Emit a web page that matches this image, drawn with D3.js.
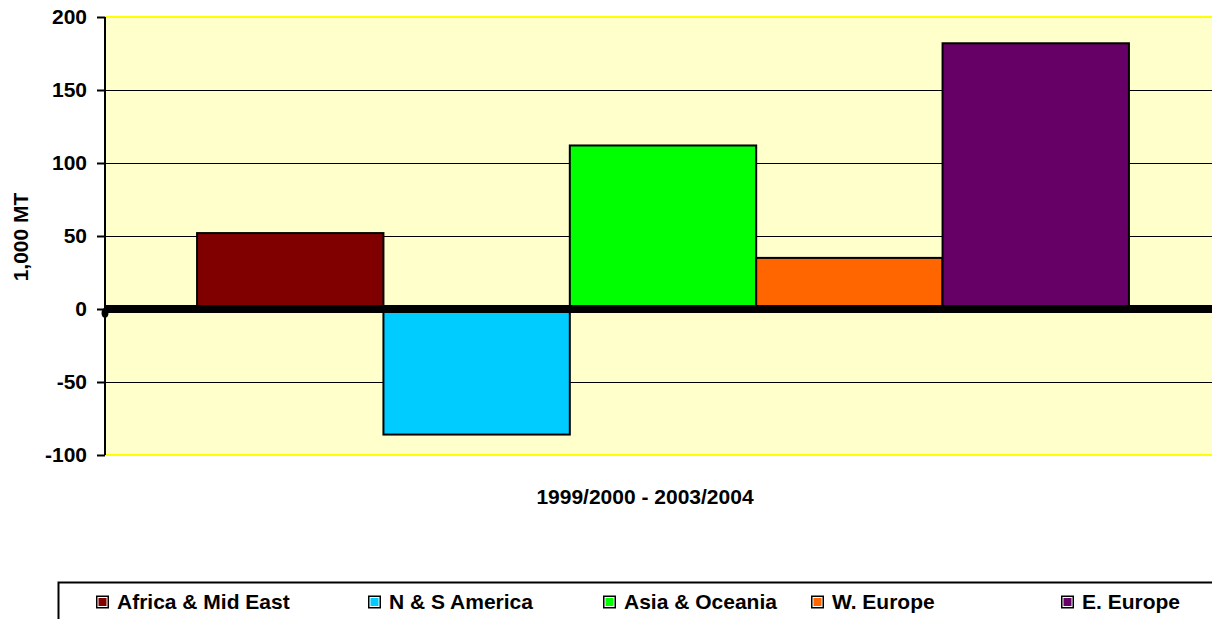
<!DOCTYPE html>
<html>
<head>
<meta charset="utf-8">
<script src="https://cdn.jsdelivr.net/npm/d3@7"></script>
<style>
html,body{margin:0;padding:0;background:#fff;}
svg{display:block;font-family:Arial,"Liberation Sans",sans-serif;font-weight:bold;}
</style>
</head>
<body>
<svg id="chart" width="1212" height="619"></svg>
<script>
const categories = ["Africa & Mid East", "N & S America", "Asia & Oceania", "W. Europe", "E. Europe"];
const values = [52, -86, 112, 35, 182];
const colors = ["#800000", "#00CCFF", "#00FF00", "#FF6600", "#660066"];
const yTicks = [-100, -50, 0, 50, 100, 150, 200];
const xTitle = "1999/2000 - 2003/2004";
const yTitle = "1,000 MT";

const FS = 21;
const svg = d3.select("#chart");
const plot = {left: 105, top: 17, right: 1221, bottom: 455};

const y = d3.scaleLinear().domain([-100, 200]).range([plot.bottom, plot.top]);
const x = d3.scaleBand().domain(categories).range([plot.left, plot.right]).paddingInner(0).paddingOuter(0.494);

// plot background
svg.append("rect").attr("x", plot.left).attr("y", plot.top)
  .attr("width", plot.right - plot.left).attr("height", plot.bottom - plot.top)
  .attr("fill", "#FFFFCC");

// gridlines
svg.append("g").selectAll("line").data(yTicks.filter(t => t !== 0 && t !== 200 && t !== -100)).join("line")
  .attr("x1", plot.left).attr("x2", plot.right)
  .attr("y1", d => Math.round(y(d)) + 0.5).attr("y2", d => Math.round(y(d)) + 0.5)
  .attr("stroke", "#000").attr("stroke-width", 1);

// yellow border top/bottom
svg.append("line").attr("x1", plot.left).attr("x2", plot.right).attr("y1", plot.top).attr("y2", plot.top)
  .attr("stroke", "#FFFF00").attr("stroke-width", 2);
svg.append("line").attr("x1", plot.left).attr("x2", plot.right).attr("y1", plot.bottom).attr("y2", plot.bottom)
  .attr("stroke", "#FFFF00").attr("stroke-width", 2);

// bars
svg.append("g").selectAll("rect").data(categories).join("rect")
  .attr("x", d => x(d))
  .attr("width", x.bandwidth())
  .attr("y", (d, i) => y(Math.max(0, values[i])))
  .attr("height", (d, i) => Math.abs(y(values[i]) - y(0)))
  .attr("fill", (d, i) => colors[i])
  .attr("stroke", "#000").attr("stroke-width", 2);

// y axis
const yAxis = d3.axisLeft(y).tickValues(yTicks).tickSize(8).tickPadding(10).tickFormat(d => String(d));
const ga = svg.append("g").attr("transform", `translate(${plot.left},0)`).call(yAxis);
ga.select(".domain").attr("stroke", "#000").attr("stroke-width", 2).attr("d", `M0,${plot.top}V${plot.bottom}`);
ga.selectAll(".tick line").attr("stroke", "#000").attr("stroke-width", 2);
ga.selectAll(".tick text").attr("font-size", FS).attr("font-weight", "bold")
  .attr("font-family", "Arial, 'Liberation Sans', sans-serif").attr("fill", "#000");

// zero line (thick)
svg.append("line").attr("x1", plot.left).attr("x2", 1212).attr("y1", y(0)).attr("y2", y(0))
  .attr("stroke", "#000").attr("stroke-width", 8);
svg.append("ellipse").attr("cx", plot.left).attr("cy", y(0) + 4).attr("rx", 3.5).attr("ry", 5).attr("fill", "#000");

// axis titles
svg.append("text").attr("x", 645).attr("y", 497).attr("dy", "0.35em")
  .attr("text-anchor", "middle").attr("font-size", FS).text(xTitle);
svg.append("text").attr("transform", "translate(21,237) rotate(-90)").attr("dy", "0.35em")
  .attr("text-anchor", "middle").attr("font-size", FS).text(yTitle);

// legend
svg.append("rect").attr("x", 58.5).attr("y", 582.5).attr("width", 1200).attr("height", 100)
  .attr("fill", "#fff").attr("stroke", "#000").attr("stroke-width", 2);
const legendX = [96, 368, 603, 811, 1061];
const lg = svg.append("g").selectAll("g").data(categories).join("g")
  .attr("transform", (d, i) => `translate(${legendX[i]},602)`);
lg.append("rect").attr("x", 0.75).attr("y", -5.75).attr("width", 11.5).attr("height", 11.5)
  .attr("fill", "#fff").attr("stroke", "#000").attr("stroke-width", 1.5);
lg.append("rect").attr("x", 2.5).attr("y", -4).attr("width", 8).attr("height", 8)
  .attr("fill", (d, i) => colors[i]);
lg.append("text").attr("x", 21).attr("dy", "0.35em").attr("font-size", FS).text(d => d);
</script>
</body>
</html>
